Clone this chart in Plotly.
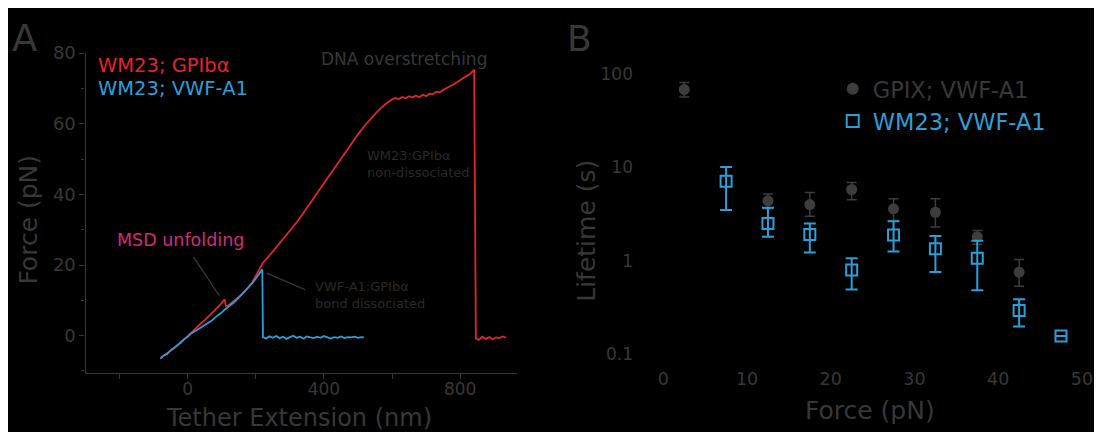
import plotly.graph_objects as go

# ---------------- Panel A data (tether extension nm, force pN) ----------------
ext_gpib = [-80, -70, -60, -50, -40, -30, -20, -10, 0, 10, 20, 30, 40, 50, 60, 70, 80, 90,
            100, 108, 112, 120, 130, 140, 150, 160, 170, 180, 190, 200, 210, 220, 240, 260,
            280, 300, 320, 340, 360, 380, 400, 420, 440, 460, 480, 500, 520, 540, 560, 580,
            600, 610, 620, 630, 640, 650, 660, 670, 680, 690, 700, 710, 720, 730, 740, 750,
            760, 770, 780, 790, 800, 810, 820, 830, 841, 843, 846, 855, 865, 875, 885, 895,
            905, 915, 925, 935]
force_gpib = [-6.3, -5.5, -4.9, -4.3, -3.4, -2.8, -1.7, -1.1, -0.1, 0.9, 1.8, 2.6, 3.6, 4.4,
              5.3, 6.2, 7.3, 8.2, 9.2, 10.3, 8.4, 8.6, 9.4, 10.1, 11.0, 11.8, 12.8, 13.9, 15.2,
              17.0, 18.9, 20.5, 22.7, 25.0, 27.3, 29.6, 32.1, 34.8, 37.6, 40.4, 43.2, 46.0,
              48.8, 51.6, 54.4, 57.0, 59.5, 61.8, 63.8, 65.5, 66.9, 67.3, 67.0, 67.6, 67.2,
              67.8, 67.4, 68.0, 67.5, 68.2, 67.8, 68.5, 68.4, 69.1, 68.9, 69.6, 70.0, 70.6,
              71.1, 71.7, 72.2, 72.9, 73.5, 74.2, 75.3, 30.0, -0.8, -1.2, -0.3, -0.9, -0.4,
              -1.0, -0.5, -0.7, -0.2, -0.6]

ext_a1 = [-80, -70, -60, -50, -40, -30, -20, -10, 0, 10, 20, 30, 40, 50, 60, 70, 80, 90, 100,
          110, 120, 130, 140, 150, 160, 170, 180, 190, 200, 210, 219, 221, 230, 240, 250, 260,
          270, 280, 290, 300, 310, 320, 330, 340, 350, 360, 370, 380, 390, 400, 410, 420, 430,
          440, 450, 460, 470, 480, 490, 500, 510, 517]
force_a1 = [-6.5, -5.6, -5.2, -4.1, -3.6, -2.6, -2.0, -0.9, -0.3, 0.6, 1.2, 1.8, 2.5, 3.2, 3.8,
            4.2, 5.1, 5.8, 6.6, 7.5, 8.2, 8.9, 9.8, 10.8, 11.8, 12.7, 13.6, 14.9, 16.2, 17.6,
            18.8, -0.4, -0.8, -0.2, -0.6, -0.1, -0.7, -0.3, -0.9, -0.4, 0.0, -0.6, -0.3, -0.8,
            -0.2, -0.5, -0.7, -0.3, -0.6, -0.1, -0.5, -0.8, -0.4, -0.6, -0.2, -0.7, -0.4,
            -0.5, -0.3, -0.6, -0.4, -0.5]

a_yticks = [0, 20, 40, 60, 80]
a_xticks = [-200, 0, 200, 400, 600, 800]
a_xticktext = ["", "0", "", "400", "", "800"]

# ---------------- Panel B data (force pN, lifetime s) ----------------
force_gpix = [2.5, 12.5, 17.5, 22.5, 27.5, 32.5, 37.5, 42.5]
life_gpix = [69, 4.4, 4.0, 5.8, 3.6, 3.3, 1.8, 0.75]
gpix_up = [13, 0.8, 1.4, 1.1, 1.0, 1.3, 0.3, 0.28]
gpix_dn = [12, 0.8, 1.0, 1.3, 0.9, 1.0, 0.3, 0.22]

force_wm23 = [7.5, 12.5, 17.5, 22.5, 27.5, 32.5, 37.5, 42.5, 47.5]
life_wm23 = [7.1, 2.5, 1.9, 0.79, 1.88, 1.34, 1.06, 0.29, 0.155]
wm23_up = [3.0, 1.2, 0.6, 0.27, 0.76, 0.5, 0.57, 0.095, 0.0]
wm23_dn = [3.6, 0.7, 0.68, 0.30, 0.63, 0.585, 0.58, 0.094, 0.0]

b_yticks = [0.1, 1, 10, 100]
b_yticktext = ["0.1", "1", "10", "100"]
b_xticks = [0, 10, 20, 30, 40, 50]

RED = "#e3242b"
BLUE = "#2b9fd9"
GRAY = "#3d3d3d"
TXT = "#383838"
FONT = "DejaVu Sans, Liberation Sans, sans-serif"

W, H = 1102, 432
OFF = 8  # page body margin


def px(x):
    return (x - OFF) / W


def py(y):
    return (H - (y - OFF)) / H


fig = go.Figure()

fig.add_trace(go.Scatter(x=ext_gpib, y=force_gpib, mode="lines", line=dict(color=RED, width=1.8),
                         xaxis="x", yaxis="y", showlegend=False, name="WM23; GPIbα"))
fig.add_trace(go.Scatter(x=ext_a1, y=force_a1, mode="lines", line=dict(color=BLUE, width=1.8),
                         xaxis="x", yaxis="y", showlegend=False, name="WM23; VWF-A1"))

fig.add_trace(go.Scatter(
    x=force_gpix, y=life_gpix, mode="markers", name="GPIX; VWF-A1",
    marker=dict(symbol="circle", size=11, color=GRAY),
    error_y=dict(type="data", symmetric=False, array=gpix_up, arrayminus=gpix_dn,
                 color=GRAY, thickness=1.5, width=5),
    xaxis="x2", yaxis="y2", legend="legend"))
fig.add_trace(go.Scatter(
    x=force_wm23, y=life_wm23, mode="markers", name="WM23; VWF-A1",
    marker=dict(symbol="square-open", size=11, color=BLUE, line=dict(width=2, color=BLUE)),
    error_y=dict(type="data", symmetric=False, array=wm23_up, arrayminus=wm23_dn,
                 color=BLUE, thickness=2, width=6),
    xaxis="x2", yaxis="y2", legend="legend2"))

axis_common = dict(showgrid=False, zeroline=False, color=TXT)

fig.update_layout(
    width=W, height=H, autosize=False,
    margin=dict(l=0, r=0, t=0, b=0),
    paper_bgcolor="black", plot_bgcolor="black",
    font=dict(family=FONT, color=TXT),
    xaxis=dict(domain=[px(86), px(520)], range=[-300, 966], anchor="y",
               tickmode="array", tickvals=a_xticks, ticktext=a_xticktext,
               ticks="outside", ticklen=5, tickcolor=TXT, showline=True, linecolor=TXT,
               linewidth=1.2, ticklabelstandoff=-4,
               tickfont=dict(family=FONT, size=17, color=TXT), **axis_common),
    yaxis=dict(domain=[py(371), py(43)], range=[-10.5, 80], anchor="x",
               tickmode="array", tickvals=a_yticks, ticks="outside", ticklen=5,
               tickcolor=TXT, showline=True, linecolor=TXT, linewidth=1.2,
               minor=dict(dtick=10, ticks="outside", ticklen=3, tickcolor=TXT),
               tickfont=dict(family=FONT, size=18, color=TXT), **axis_common),
    xaxis2=dict(domain=[px(638), px(1093)], range=[-3.5, 50.5], anchor="y2",
                tickmode="array", tickvals=b_xticks, ticks="", showline=False,
                tickfont=dict(family=FONT, size=17.5, color=TXT), **axis_common),
    yaxis2=dict(domain=[py(364.4), py(50.5)], type="log", range=[-1.136, 2.15], anchor="x2",
                tickmode="array", tickvals=b_yticks, ticktext=b_yticktext, ticks="",
                showline=False, tickfont=dict(family=FONT, size=17, color=TXT), **axis_common),
    legend=dict(x=px(838), y=py(80), xanchor="left", yanchor="middle",
                bgcolor="rgba(0,0,0,0)", font=dict(family=FONT, size=22.5, color=TXT),
                itemsizing="constant"),
    legend2=dict(x=px(838), y=py(113), xanchor="left", yanchor="middle",
                 bgcolor="rgba(0,0,0,0)", font=dict(family=FONT, size=22.5, color=BLUE),
                 itemsizing="constant"),
)

ann = [
    dict(text="A", x=px(10), y=py(28), xanchor="left", font=dict(size=37, color=TXT)),
    dict(text="B", x=px(569), y=py(28), xanchor="left", font=dict(size=36, color=TXT)),
    dict(text="WM23; GPIbα", x=px(97), y=py(56), xanchor="left", font=dict(size=19.5, color=RED)),
    dict(text="WM23; VWF-A1", x=px(97), y=py(79), xanchor="left", font=dict(size=19.5, color=BLUE)),
    dict(text="DNA overstretching", x=px(407), y=py(49), xanchor="center", font=dict(size=17, color=TXT)),
    dict(text="WM23:GPIbα<br>non-dissociated", x=px(367), y=py(157), xanchor="left", align="left",
         font=dict(size=13, color="#2a2a2a")),
    dict(text="VWF-A1:GPIbα<br>bond dissociated", x=px(315), y=py(291), xanchor="left", align="left",
         font=dict(size=13, color="#2a2a2a")),
    dict(text="MSD unfolding", x=px(116), y=py(235), xanchor="left", font=dict(size=17.5, color="#d42a78")),
    dict(text="Force (pN)", x=px(29), y=py(214), textangle=-90, font=dict(size=25, color=TXT)),
    dict(text="Tether Extension (nm)", x=px(301), y=py(417), font=dict(size=24, color=TXT)),
    dict(text="Lifetime (s)", x=px(590), y=py(225), textangle=-90, font=dict(size=25, color=TXT)),
    dict(text="Force (pN)", x=px(876), y=py(410), font=dict(size=25, color=TXT)),
]
for a in ann:
    a.setdefault("xanchor", "center")
    a.update(xref="paper", yref="paper", showarrow=False, yanchor="middle")
    a["font"]["family"] = FONT
    fig.add_annotation(**a)

# pointer lines (annotation leaders)
fig.add_shape(type="line", xref="x", yref="y", x0=17, y0=22.3, x1=93, y1=11.3,
              line=dict(color="#3a3a3a", width=1.3))
fig.add_shape(type="line", xref="x", yref="y", x0=232, y0=17.7, x1=345, y1=13.0,
              line=dict(color="#3a3a3a", width=1.3))

fig.write_html("out.html")
